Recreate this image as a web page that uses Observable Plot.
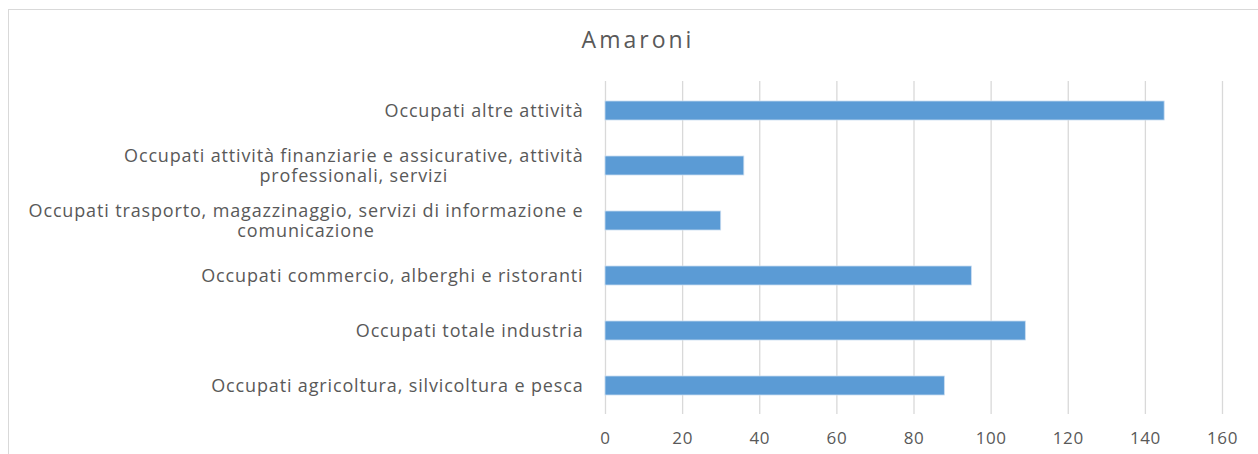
<!DOCTYPE html>
<html>
<head>
<meta charset="utf-8">
<script src="https://cdn.jsdelivr.net/npm/d3@7"></script>
<script src="https://cdn.jsdelivr.net/npm/@observablehq/plot@0.6"></script>
<style>
  html, body { margin: 0; padding: 0; background: #fff; }
  #wrap { position: relative; width: 1258px; height: 454px; overflow: hidden; font-family: "Open Sans", sans-serif; }
  #frame { position: absolute; left: 8px; top: 9px; width: 1400px; height: 600px; border-top: 1px solid #D9D9D9; border-left: 1px solid #D9D9D9; pointer-events: none; }
  #title { height: 70px; box-sizing: border-box; padding-top: 28px; line-height: 22px; font-size: 23px; letter-spacing: 3px; color: #595959; text-align: center; padding-left: 18px; }
  svg g[aria-label="y-axis tick label"] text { letter-spacing: 0.85px; }
  svg g[aria-label="x-axis tick label"] text { letter-spacing: 0.6px; }
</style>
</head>
<body>
<div id="wrap">
  <div id="title">Amaroni</div>
  <div id="chart"></div>
  <div id="frame"></div>
</div>
<script>
const categories = [
  "Occupati altre attività",
  "Occupati attività finanziarie e assicurative, attività professionali, servizi",
  "Occupati trasporto, magazzinaggio, servizi di informazione e comunicazione",
  "Occupati commercio, alberghi e ristoranti",
  "Occupati totale industria",
  "Occupati agricoltura, silvicoltura e pesca"
];
const values = [145, 36, 30, 95, 109, 88];
const categoryLabels = [
  "Occupati altre attività",
  "Occupati attività finanziarie e assicurative, attività\nprofessionali, servizi",
  "Occupati trasporto, magazzinaggio, servizi di informazione e\ncomunicazione",
  "Occupati commercio, alberghi e ristoranti",
  "Occupati totale industria",
  "Occupati agricoltura, silvicoltura e pesca"
];
const xTicks = [0, 20, 40, 60, 80, 100, 120, 140, 160];

const data = categories.map((c, i) => ({category: c, value: values[i]}));
const labelOf = new Map(categories.map((c, i) => [c, categoryLabels[i]]));

const chart = Plot.plot({
  width: 1258,
  height: 384,
  marginLeft: 605,
  marginRight: 36,
  marginTop: 11,
  marginBottom: 40,
  style: { fontFamily: "Open Sans, sans-serif", color: "#595959", background: "#fff" },
  x: { domain: [0, 160], ticks: xTicks },
  y: { domain: categories, paddingInner: 0.655, paddingOuter: 0.3275 },
  marks: [
    Plot.gridX(xTicks, { stroke: "#D9D9D9", strokeOpacity: 1, strokeWidth: 1.3 }),
    Plot.barX(data, { x: "value", y: "category", fill: "#5B9BD5", stroke: "#C9DCF0", strokeWidth: 0.8 }),
    Plot.axisX(xTicks, { tickSize: 0, tickPadding: 17, fontSize: 17, fill: "#595959", label: null }),
    Plot.axisY({ tickSize: 0, tickPadding: 22, fontSize: 18, fill: "#595959", label: null, lineHeight: 1.1, tickFormat: d => labelOf.get(d) })
  ]
});
document.getElementById("chart").appendChild(chart);

// Center multi-line category labels on their widest line, as in the reference
chart.querySelectorAll('g[aria-label="y-axis tick label"] text').forEach(t => {
  const spans = t.querySelectorAll("tspan");
  if (spans.length < 2) return;
  let maxW = 0;
  spans.forEach(s => { maxW = Math.max(maxW, s.getComputedTextLength()); });
  t.setAttribute("text-anchor", "middle");
  spans.forEach(s => { s.setAttribute("x", -maxW / 2); s.setAttribute("text-anchor", "middle"); });
});
</script>
</body>
</html>
